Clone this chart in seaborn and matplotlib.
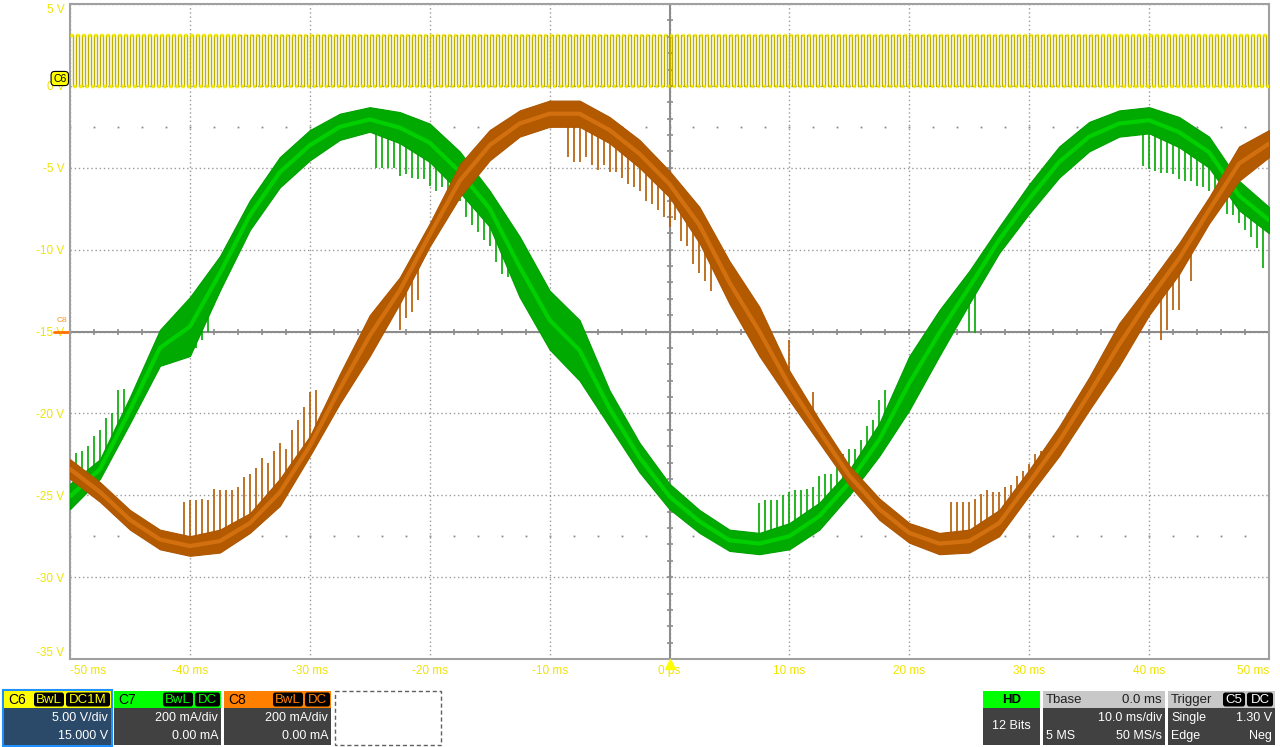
import numpy as np
import matplotlib
matplotlib.use('Agg')
import matplotlib.pyplot as plt
from matplotlib.patches import Rectangle, FancyBboxPatch
import seaborn as sns

# readings taken every 2.5 ms across the screen (ms)
t_ms = [-50, -47.5, -45, -42.5, -40, -37.5, -35, -32.5, -30, -27.5, -25, -22.5, -20,
        -17.5, -15, -12.5, -10, -7.5, -5, -2.5, 0, 2.5, 5, 7.5, 10, 12.5, 15, 17.5,
        20, 22.5, 25, 27.5, 30, 32.5, 35, 37.5, 40, 42.5, 45, 47.5, 50]

# C7 (green) band, upper and lower edge in screen volts
green_hi = [-24.3, -22.8, -19.0, -14.9, -12.9, -10.4, -7.0, -4.35, -2.7, -1.7, -1.3, -1.6, -2.3,
            -4.0, -6.4, -9.2, -12.5, -14.3, -18.6, -21.8, -24.3, -25.9, -27.1, -27.3, -26.7, -25.45,
            -23.45, -20.6, -16.5, -13.7, -11.3, -8.6, -6.0, -3.7, -2.2, -1.5, -1.3, -1.9, -3.1, -5.8, -7.4]
green_lo = [-25.85, -24.0, -20.6, -17.1, -16.5, -12.5, -8.8, -6.2, -4.55, -3.3, -2.8, -3.5, -4.65,
            -6.5, -8.6, -12.9, -16.1, -18.0, -20.8, -23.6, -25.85, -27.3, -28.4, -28.6, -28.3, -27.1,
            -25.0, -22.6, -19.8, -16.5, -13.3, -10.2, -7.8, -5.6, -4.0, -3.1, -2.9, -3.75, -5.0, -7.6, -9.0]

# C8 (orange) band
orange_hi = [-22.8, -24.2, -25.9, -27.1, -27.5, -27.1, -26.1, -24.0, -21.4, -17.6, -14.0, -11.7, -8.4,
             -4.8, -2.7, -1.5, -0.9, -0.9, -1.9, -3.3, -5.2, -7.4, -10.7, -13.5, -17.4, -20.4,
             -23.2, -25.2, -26.7, -27.3, -27.1, -25.9, -23.45, -20.8, -17.8, -14.5, -12.1, -9.6, -6.8, -3.7, -2.7]
orange_lo = [-24.0, -25.4, -27.1, -28.3, -28.7, -28.5, -27.3, -25.65, -22.6, -19.4, -16.5, -13.3, -9.8,
             -6.8, -4.55, -3.1, -2.5, -2.5, -3.5, -5.0, -6.8, -9.6, -13.3, -16.5, -19.2, -21.8,
             -24.4, -26.5, -27.9, -28.6, -28.5, -27.5, -25.0, -22.6, -19.8, -17.1, -14.0, -11.5, -8.4, -5.8, -4.35]

# switching spikes: time (ms) and tip (V)
green_spike_t = [-49.5, -49.0, -48.5, -48.0, -47.5, -47.0, -46.5, -46.0, -45.5,
                 -39.5, -39.0, -38.5,
                 -24.5, -24.0, -23.5, -23.0, -22.5, -22.0, -21.5, -21.0, -20.5, -20.0, -19.5, -19.0,
                 -18.5, -18.0, -17.5, -17.0, -16.5, -16.0, -15.5, -15.0, -14.5, -14.0, -13.5,
                 7.5, 8.0, 8.5, 9.0, 9.5, 10.0, 10.5, 11.0, 11.5, 12.0, 12.5, 13.0, 13.5, 14.0, 14.5,
                 15.0, 15.5, 16.0, 16.5, 17.0, 17.5, 18.0,
                 25.0, 25.5,
                 39.5, 40.0, 40.5, 41.0, 41.5, 42.0, 42.5, 43.0, 43.5, 44.0, 44.5, 45.0, 45.5, 46.0,
                 46.5, 47.0, 47.5, 48.0, 48.5, 49.0, 49.5]
green_spike_v = [-22.4, -22.3, -22.0, -21.4, -21.0, -20.3, -20.0, -18.6, -18.5,
                 -16.0, -15.5, -15.0,
                 -5.0, -5.0, -5.0, -5.0, -5.5, -5.4, -5.6, -5.7, -5.7, -6.1, -6.4, -6.2,
                 -6.6, -6.4, -7.0, -8.0, -8.5, -8.9, -9.4, -9.8, -10.75, -11.5, -11.7,
                 -25.5, -25.3, -25.3, -25.3, -25.0, -24.8, -24.7, -24.7, -24.6, -24.5, -23.8, -23.7,
                 -23.7, -23.25, -22.5, -22.2, -22.2, -21.6, -20.8, -20.4, -19.2, -18.6,
                 -15.0, -15.1,
                 -4.9, -5.1, -5.2, -5.3, -5.3, -5.4, -5.7, -5.8, -5.8, -6.1, -6.2, -6.4, -6.5, -7.0,
                 -7.8, -7.9, -8.4, -8.8, -9.2, -9.9, -11.1]

orange_spike_t = [-40.5, -40.0, -39.5, -39.0, -38.5, -38.0, -37.5, -37.0, -36.5, -36.0, -35.5, -35.0,
                  -34.5, -34.0, -33.5, -33.0, -32.5, -32.0, -31.5, -31.0, -30.5, -30.0, -29.5,
                  -22.5, -22.0, -21.5, -21.0,
                  -8.5, -8.0, -7.5, -7.0, -6.5, -6.0, -5.5, -5.0, -4.5, -4.0, -3.5, -3.0, -2.5, -2.0,
                  -1.5, -1.0, -0.5, 0.0, 0.5, 1.0, 1.5, 2.0, 2.5, 3.0, 3.5,
                  10.0, 12.0,
                  23.5, 24.0, 24.5, 25.0, 25.5, 26.0, 26.5, 27.0, 27.5, 28.0, 28.5, 29.0, 29.5, 30.0,
                  30.5, 31.0, 31.5, 32.0, 32.5, 33.0, 33.5, 34.0, 34.5,
                  41.0, 41.5, 42.0, 42.5, 43.5]
orange_spike_v = [-25.4, -25.3, -25.3, -25.2, -25.3, -24.6, -24.7, -24.7, -24.7, -24.5, -23.9, -23.7,
                  -23.35, -22.7, -23.05, -22.3, -21.8, -22.2, -21.0, -20.4, -19.6, -18.7, -18.6,
                  -14.9, -14.2, -13.8, -13.1,
                  -4.35, -4.65, -4.65, -4.35, -4.85, -5.15, -4.85, -5.25, -5.25, -5.65, -6.0, -6.2,
                  -6.4, -7.0, -7.2, -7.6, -8.0, -8.6, -8.2, -9.5, -9.8, -10.85, -11.4, -11.9, -12.5,
                  -15.5, -18.7,
                  -25.4, -25.4, -25.4, -25.4, -25.2, -24.9, -24.7, -24.8, -24.8, -24.5, -24.4, -23.8,
                  -23.5, -23.1, -22.5, -22.3, -22.1, -21.6, -21.0, -20.4, -19.8, -19.3, -18.6,
                  -15.5, -14.9, -13.7, -13.7, -11.9]

# C6 clock: 0.5 ms period square wave, 0 V to 3.1 V
clk_period_ms = 0.5
clk_high_v = 3.1
clk_low_v = 0.0

xtick_vals = [-50, -40, -30, -20, -10, 0, 10, 20, 30, 40, 50]
xtick_labels = ['-50 ms', '-40 ms', '-30 ms', '-20 ms', '-10 ms', '0 ps',
                '10 ms', '20 ms', '30 ms', '40 ms', '50 ms']
ytick_vals = [5, 0, -5, -10, -15, -20, -25, -30, -35]
ytick_labels = ['5 V', '0 V', '-5 V', '-10 V', '-15 V', '-20 V', '-25 V', '-30 V', '-35 V']

# bottom info boxes
ch_names = ['C6', 'C7', 'C8']
ch_colors = ['#FFFF00', '#00FF00', '#FF8000']
ch_coupling = ['DC1M', 'DC', 'DC']
ch_scale = ['5.00 V/div', '200 mA/div', '200 mA/div']
ch_offset = ['15.000 V', '0.00 mA', '0.00 mA']

sns.set_theme(style='white')
plt.rcParams['font.family'] = ['Liberation Sans', 'DejaVu Sans']

fig = plt.figure(figsize=(12.8, 7.47), dpi=100)
ax = fig.add_axes([70 / 1280, 1 - 659 / 747, 1199 / 1280, 655 / 747])
ax.set_xlim(-50, 50)
ax.set_ylim(-35, 5)

t = np.array(t_ms)
g_mid = (np.array(green_hi) + np.array(green_lo)) / 2
o_mid = (np.array(orange_hi) + np.array(orange_lo)) / 2

# grid and center cross
ax.grid(True, color='#9A9A9A', lw=1, ls=(0, (1, 2)))
ax.axhline(-15, color='#8C8C8C', lw=1.5, zorder=1)
ax.axvline(0, color='#8C8C8C', lw=1.5, zorder=1)
minor_x = np.arange(-50, 51, 2)
ax.plot(minor_x, np.full(len(minor_x), -15), ls='none', marker='|', ms=5, mew=1.2, color='#8C8C8C', zorder=1)
minor_y = np.arange(-35, 6, 1)
ax.plot(np.zeros(len(minor_y)), minor_y, ls='none', marker='_', ms=5, mew=1.2, color='#8C8C8C', zorder=1)
for yy in (-2.5, -27.5):
    ax.plot(minor_x, np.full(len(minor_x), yy), ls='none', marker='s', ms=1.3, mew=0, color='#8C8C8C', zorder=1)

# green channel
gs_t = np.array(green_spike_t)
ax.vlines(gs_t, np.interp(gs_t, t, g_mid), green_spike_v, color='#00AA00', lw=1.2, zorder=2)
ax.fill_between(t, green_lo, green_hi, color='#00AA00', lw=0.8, edgecolor='#00A000', zorder=3)
sns.lineplot(x=t, y=g_mid, ax=ax, color='#00E000', lw=3, alpha=0.7, estimator=None, sort=False,
             legend=False, zorder=3)

# orange channel
os_t = np.array(orange_spike_t)
ax.vlines(os_t, np.interp(os_t, t, o_mid), orange_spike_v, color='#B35A00', lw=1.2, zorder=4)
ax.fill_between(t, orange_lo, orange_hi, color='#B35A00', lw=0.8, edgecolor='#AD5500', zorder=5)
sns.lineplot(x=t, y=o_mid, ax=ax, color='#E8801A', lw=3, alpha=0.6, estimator=None, sort=False,
             legend=False, zorder=5)

# clock
edges = np.arange(-50, 50 + clk_period_ms / 2, clk_period_ms / 2)
levels = np.where(np.arange(len(edges)) % 2 == 0, clk_high_v, clk_low_v)
sns.lineplot(x=edges, y=levels, ax=ax, drawstyle='steps-post', color='#BFB000', lw=1.0,
             estimator=None, sort=False, legend=False, zorder=6)
ax.hlines(levels[:-1], edges[:-1] + 0.03, edges[1:] - 0.03, color='#F5EE00', lw=2.5, zorder=7)

# axis ticks and labels
ax.set_xticks(xtick_vals)
ax.set_xticklabels(xtick_labels)
ax.set_yticks(ytick_vals)
ax.set_yticklabels(ytick_labels)
ax.tick_params(length=0, labelsize=8.5, labelcolor='#F0E400', pad=4)
xl = ax.get_xticklabels()
xl[0].set_ha('left')
xl[-1].set_ha('right')
yl = ax.get_yticklabels()
yl[0].set_va('top')
yl[-1].set_va('bottom')
for s in ax.spines.values():
    s.set_color('#A0A0A0')
    s.set_linewidth(1.5)

# channel markers on the left edge, trigger arrow
ax.text(-0.003, 0.45, 'C6', transform=ax.get_yaxis_transform(), ha='right', va='center',
        fontsize=7.5, color='black', zorder=10, clip_on=False,
        bbox=dict(boxstyle='round,pad=0.2,rounding_size=0.35', fc='#FFFF00', ec='black', lw=0.8))
ax.text(-0.002, -14.3, 'C8', transform=ax.get_yaxis_transform(), ha='right', va='center',
        fontsize=6, color='#FF9020', zorder=10, clip_on=False)
ax.plot([-0.013, 0], [-15, -15], transform=ax.get_yaxis_transform(), color='#FF7000', lw=2, clip_on=False)
ax.plot([0], [-35.3], marker='^', ms=7, color='#FFFF00', clip_on=False, zorder=10)

# info panels in pixel coordinates
ov = fig.add_axes([0, 0, 1, 1], facecolor='none')
ov.set_xlim(0, 1280)
ov.set_ylim(747, 0)
ov.axis('off')


def rect(x0, y0, x1, y1, fc, ec='none', lw=0, ls='-'):
    ov.add_patch(Rectangle((x0, y0), x1 - x0, y1 - y0, facecolor=fc, edgecolor=ec, linewidth=lw, linestyle=ls))


def tag(x0, x1, text, fg):
    ov.add_patch(FancyBboxPatch((x0 + 1, 692.5), x1 - x0 - 2, 14, boxstyle='round,pad=0,rounding_size=2.5',
                                fc='black', ec='none'))
    ov.text((x0 + x1) / 2, 700, text, color=fg, ha='center', va='center', fontsize=9.5)


for i, name in enumerate(ch_names):
    x0 = 4 + i * 110
    x1 = x0 + 107
    body = '#2B4A6A' if i == 0 else '#414141'
    if i == 0:
        rect(x0 - 1, 690, x1 + 1, 746, 'none', ec='#1E90FF', lw=1.5)
    rect(x0, 691, x1, 708, ch_colors[i])
    rect(x0, 708, x1, 745, body)
    ov.text(x0 + 4, 700, name, color='black', ha='left', va='center', fontsize=10)
    if ch_coupling[i] == 'DC1M':
        tag(x0 + 29, x0 + 61, 'BwL', ch_colors[i])
        tag(x0 + 61, x1, 'DC1M', ch_colors[i])
    else:
        tag(x0 + 48, x0 + 80, 'BwL', ch_colors[i])
        tag(x0 + 80, x1, 'DC', ch_colors[i])
    ov.text(x1 - 3, 718, ch_scale[i], color='white', ha='right', va='center', fontsize=9)
    ov.text(x1 - 3, 736, ch_offset[i], color='white', ha='right', va='center', fontsize=9)

rect(335, 691, 441, 745, 'none', ec='#606060', lw=1, ls=(0, (3, 2)))

# HD
rect(983, 691, 1040, 708, '#00FF00')
rect(983, 708, 1040, 745, '#414141')
ov.text(1011.5, 700, 'HD', color='black', ha='center', va='center', fontsize=9.5, fontweight='bold')
ov.text(1011.5, 726, '12 Bits', color='white', ha='center', va='center', fontsize=9)

# Tbase
rect(1043, 691, 1165, 708, '#C8C8C8')
rect(1043, 708, 1165, 745, '#414141')
ov.text(1046, 700, 'Tbase', color='#202020', ha='left', va='center', fontsize=9.5)
ov.text(1162, 700, '0.0 ms', color='#202020', ha='right', va='center', fontsize=9.5)
ov.text(1162, 718, '10.0 ms/div', color='white', ha='right', va='center', fontsize=9)
ov.text(1046, 736, '5 MS', color='white', ha='left', va='center', fontsize=9)
ov.text(1162, 736, '50 MS/s', color='white', ha='right', va='center', fontsize=9)

# Trigger
rect(1168, 691, 1275, 708, '#C8C8C8')
rect(1168, 708, 1275, 745, '#414141')
ov.text(1171, 700, 'Trigger', color='#202020', ha='left', va='center', fontsize=9.5)
tag(1222, 1246, 'C5', 'white')
tag(1246, 1274, 'DC', 'white')
ov.text(1171, 718, 'Single', color='white', ha='left', va='center', fontsize=9)
ov.text(1272, 718, '1.30 V', color='white', ha='right', va='center', fontsize=9)
ov.text(1171, 736, 'Edge', color='white', ha='left', va='center', fontsize=9)
ov.text(1272, 736, 'Neg', color='white', ha='right', va='center', fontsize=9)

fig.savefig('out.png', dpi=100, facecolor='white')
